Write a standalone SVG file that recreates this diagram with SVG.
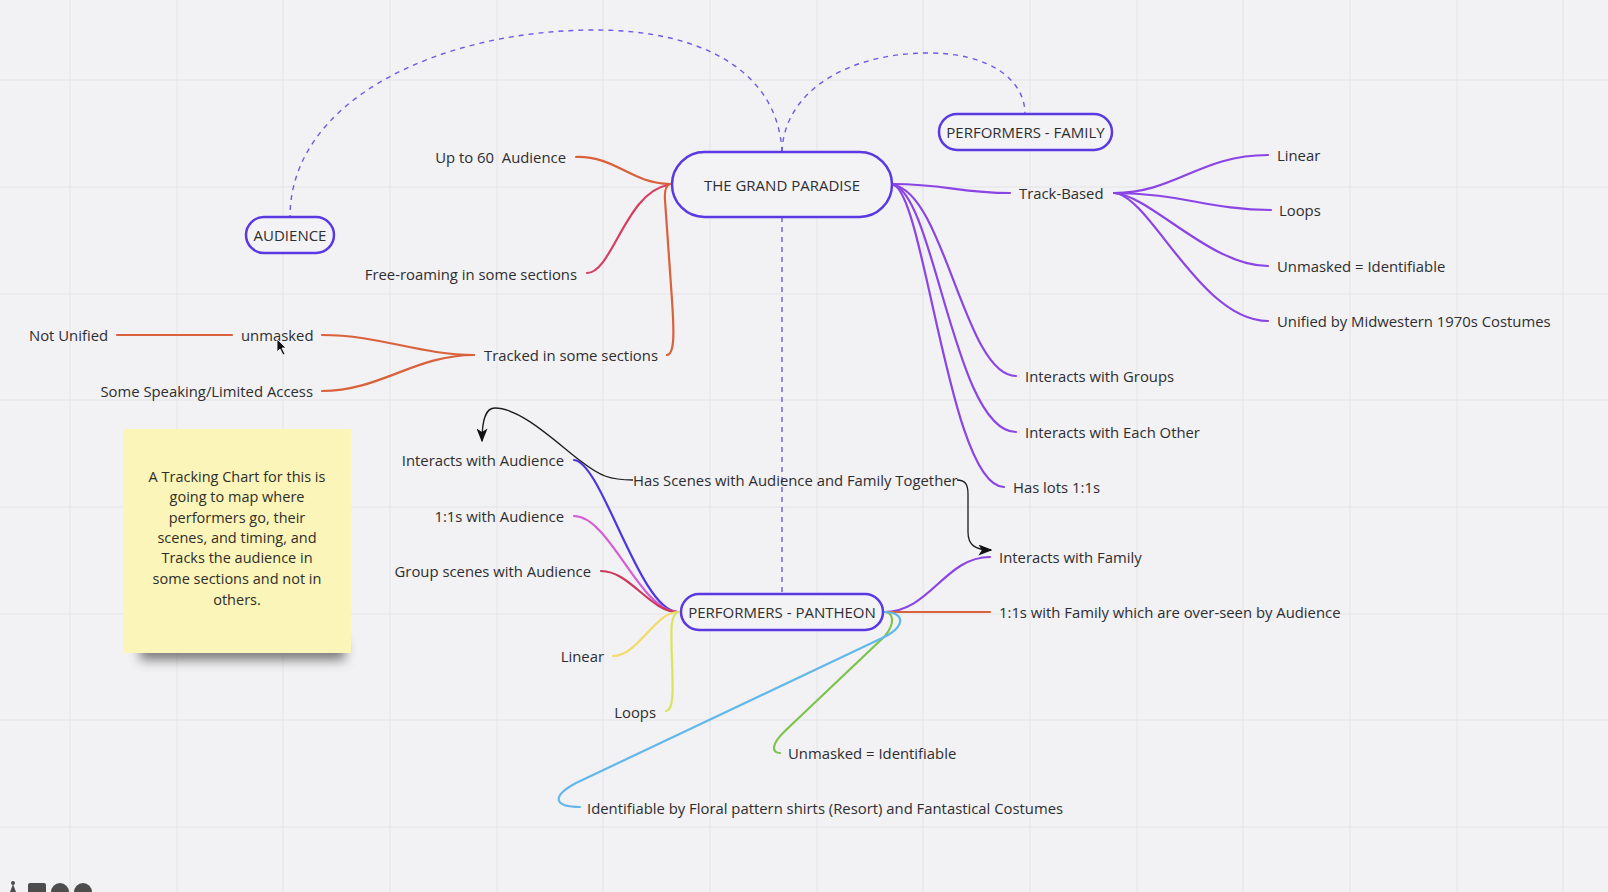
<svg xmlns="http://www.w3.org/2000/svg" width="1608" height="892" viewBox="0 0 1608 892">
<defs>
<style>
.bg{fill:#f2f1f3}
.grid line{stroke:#e4e3e7;stroke-width:1}
.node rect{fill:#f3f2f5;stroke:#5a38e2;stroke-width:2.5}
.node text{font-family:"Open Sans","Liberation Sans",sans-serif;font-size:15px;fill:#2e2e30;text-anchor:middle}
.lbl{font-family:"Open Sans","Liberation Sans",sans-serif;font-size:14.85px;fill:#2e2e30}
.end{text-anchor:end}
.c{fill:none;stroke-width:2.2;stroke-linecap:round}
.dash{fill:none;stroke:#6c5be6;stroke-width:1.4;stroke-dasharray:5 5}
.org{stroke:#d9613c}
.red{stroke:#d63f63}
.pur{stroke:#8b44e6}
.blv{stroke:#4c37df}
.mag{stroke:#d35fd5}
.crm{stroke:#c93a5e}
.yel{stroke:#f1dc6a}
.ygr{stroke:#d8e45e}
.grn{stroke:#7dc44c}
.blu{stroke:#63b8ea}
.blk{fill:none;stroke:#1c1c1c;stroke-width:1.3}
.note text{font-family:"Open Sans","Liberation Sans",sans-serif;font-size:14.5px;fill:#2f2e2a;text-anchor:middle}
</style>
<marker id="arr" viewBox="0 0 10 10" refX="9" refY="5" markerWidth="14" markerHeight="11" markerUnits="userSpaceOnUse" orient="auto" preserveAspectRatio="none">
<path d="M0,0 L10,5 L0,10 L2.5,5 z" fill="#111"/>
</marker>
<filter id="blur" x="-20%" y="-100%" width="140%" height="300%">
<feGaussianBlur stdDeviation="6"/>
</filter>
</defs>
<rect class="bg" x="0" y="0" width="1608" height="892"/>
<g class="grid">
<line x1="70" y1="0" x2="70" y2="892"/><line x1="177" y1="0" x2="177" y2="892"/><line x1="283" y1="0" x2="283" y2="892"/><line x1="390" y1="0" x2="390" y2="892"/><line x1="497" y1="0" x2="497" y2="892"/><line x1="603" y1="0" x2="603" y2="892"/><line x1="710" y1="0" x2="710" y2="892"/><line x1="817" y1="0" x2="817" y2="892"/><line x1="923" y1="0" x2="923" y2="892"/><line x1="1030" y1="0" x2="1030" y2="892"/><line x1="1137" y1="0" x2="1137" y2="892"/><line x1="1243" y1="0" x2="1243" y2="892"/><line x1="1350" y1="0" x2="1350" y2="892"/><line x1="1457" y1="0" x2="1457" y2="892"/><line x1="1563" y1="0" x2="1563" y2="892"/>
<line x1="0" y1="80" x2="1608" y2="80"/><line x1="0" y1="187" x2="1608" y2="187"/><line x1="0" y1="294" x2="1608" y2="294"/><line x1="0" y1="400" x2="1608" y2="400"/><line x1="0" y1="507" x2="1608" y2="507"/><line x1="0" y1="614" x2="1608" y2="614"/><line x1="0" y1="720" x2="1608" y2="720"/><line x1="0" y1="827" x2="1608" y2="827"/>
</g>
<g id="connectors">
<path class="dash" d="M782,152 C778,70 700,30 595,30 C440,30 290,100 290,217"/>
<path class="dash" d="M782,152 C784,90 850,53 928,53 C990,53 1025,80 1025,114"/>
<path class="dash" d="M782,217 L782,594"/>
<path class="c org" d="M576,157 C616,156 630,183 670,184"/>
<path class="c red" d="M587,273 C612,273 626,192 668,185"/>
<path class="c org" d="M667,355 C675,354 674,330 672,300 L665,200 Q664,186 670,184"/>
<path class="c org" d="M322,335 C380,335 420,355 474,355"/>
<path class="c org" d="M322,391 C380,391 415,355 474,355"/>
<path class="c org" d="M117,335 L232,335"/>
<path class="c pur" d="M893,184 C945,184 960,193 1010,193"/>
<path class="c pur" d="M1114,193 C1175,193 1200,155 1268,155"/>
<path class="c pur" d="M1114,193 C1180,193 1210,210 1271,210"/>
<path class="c pur" d="M1114,193 C1150,195 1210,266 1268,266"/>
<path class="c pur" d="M1114,193 C1150,195 1200,321 1268,321"/>
<path class="c pur" d="M894,185 C945,195 965,376 1016,376"/>
<path class="c pur" d="M894,185 C935,198 955,432 1016,432"/>
<path class="c pur" d="M894,185 C925,198 950,487 1004,487"/>
<path class="c blv" d="M574,460 C602,462 640,612 678,612"/>
<path class="c mag" d="M574,516 C610,516 640,612 678,612"/>
<path class="c crm" d="M601,571 C630,571 650,612 678,612"/>
<path class="c yel" d="M613,656 C638,656 655,612 678,612"/>
<path class="c ygr" d="M666,711 C674,710 673,690 672,660 C671,630 670,615 678,612"/>
<path class="c pur" d="M884,612 C930,612 945,557 990,557"/>
<path class="c org" d="M884,612 L990,612"/>
<path class="c grn" d="M884,612 C893,612 896,622 885,636 L786,730 C770,745 772,753 780,753"/>
<path class="c blu" d="M884,612 C905,612 908,627 878,640 L576,783 C550,797 555,807 580,807"/>
<path class="blk" d="M633,480 C610,480 600,476 582,462 C560,446 522,408 495,408 C486,408 482,418 482,441" marker-end="url(#arr)"/>
<path class="blk" d="M957,480 C965,480 968,484 968,494 L968,532 C968,545 975,550 991,550" marker-end="url(#arr)"/>
</g>
<g id="node-grand-paradise" class="node">
<rect x="672" y="152" width="220" height="65" rx="32.5"/>
<text x="782" y="190.5">THE GRAND PARADISE</text>
</g>
<g id="node-audience" class="node">
<rect x="246" y="217" width="88" height="36" rx="18"/>
<text x="290" y="240.5">AUDIENCE</text>
</g>
<g id="node-performers-family" class="node">
<rect x="939" y="114" width="173" height="36" rx="18"/>
<text x="1025.5" y="137.5">PERFORMERS - FAMILY</text>
</g>
<g id="node-performers-pantheon" class="node">
<rect x="681" y="594" width="202" height="36" rx="18"/>
<text x="782" y="617.5">PERFORMERS - PANTHEON</text>
</g>
<g id="labels-audience">
<text class="lbl end" x="566" y="162.5" xml:space="preserve">Up to 60  Audience</text>
<text class="lbl end" x="577" y="279.5">Free-roaming in some sections</text>
<text class="lbl" x="484" y="360.5">Tracked in some sections</text>
<text class="lbl" x="241" y="340.5">unmasked</text>
<text class="lbl" x="29" y="340.5">Not Unified</text>
<text class="lbl end" x="313" y="396.5">Some Speaking/Limited Access</text>
</g>
<g id="labels-family">
<text class="lbl" x="1019" y="198.5">Track-Based</text>
<text class="lbl" x="1277" y="160.5">Linear</text>
<text class="lbl" x="1279" y="215.5">Loops</text>
<text class="lbl" x="1277" y="271.5">Unmasked = Identifiable</text>
<text class="lbl" x="1277" y="326.5">Unified by Midwestern 1970s Costumes</text>
<text class="lbl" x="1025" y="381.5">Interacts with Groups</text>
<text class="lbl" x="1025" y="437.5">Interacts with Each Other</text>
<text class="lbl" x="1013" y="492.5">Has lots 1:1s</text>
</g>
<g id="labels-pantheon">
<text class="lbl end" x="564" y="465.5">Interacts with Audience</text>
<text class="lbl end" x="564" y="521.5">1:1s with Audience</text>
<text class="lbl end" x="591" y="576.5">Group scenes with Audience</text>
<text class="lbl end" x="604" y="661.5">Linear</text>
<text class="lbl end" x="656" y="717.5">Loops</text>
<text class="lbl" x="633" y="485.5">Has Scenes with Audience and Family Together</text>
<text class="lbl" x="999" y="562.5">Interacts with Family</text>
<text class="lbl" x="999" y="617.5">1:1s with Family which are over-seen by Audience</text>
<text class="lbl" x="788" y="758.5">Unmasked = Identifiable</text>
<text class="lbl" x="587" y="813.5">Identifiable by Floral pattern shirts (Resort) and Fantastical Costumes</text>
</g>
<g id="sticky-note" class="note">
<rect x="140" y="640" width="205" height="20" fill="#4a4a4a" opacity="0.7" filter="url(#blur)"/>
<rect x="123" y="429" width="228" height="224" fill="#fcf5b9"/>
<text x="237" y="482">A Tracking Chart for this is</text>
<text x="237" y="502">going to map where</text>
<text x="237" y="522.5">performers go, their</text>
<text x="237" y="543">scenes, and timing, and</text>
<text x="237" y="563">Tracks the audience in</text>
<text x="237" y="584">some sections and not in</text>
<text x="237" y="604.5">others.</text>
</g>
<g id="cursor">
<path d="M277,339 L277,352 L280,349 L283,355 L285,354 L282,348 L286,348 Z" fill="#111" stroke="#fff" stroke-width="0.8"/>
</g>
<g id="ui-icons" fill="#4d4d4d">
<path d="M10,892 L13,884 L16,892 Z"/>
<circle cx="13" cy="883" r="2"/>
<rect x="28" y="883" width="18" height="12" rx="2"/>
<circle cx="60" cy="892" r="9"/>
<circle cx="83" cy="892" r="9"/>
</g>
</svg>
